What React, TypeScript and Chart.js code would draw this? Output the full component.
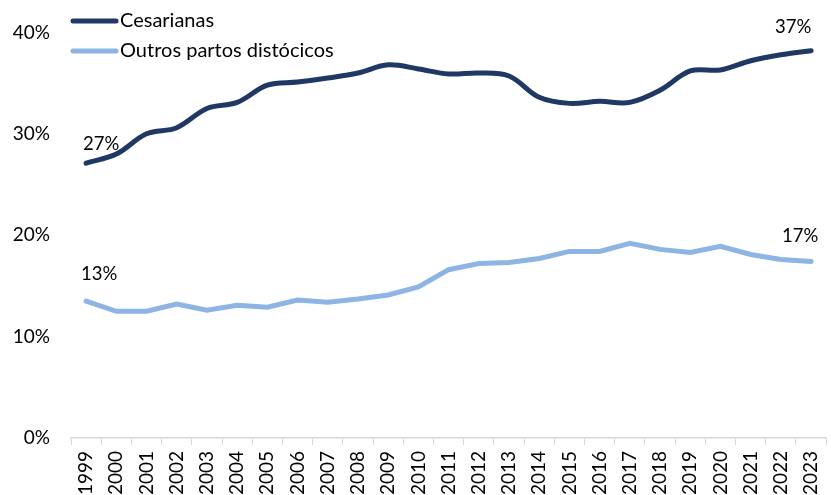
import React, { useEffect, useRef } from "react";
import { Chart, registerables } from "chart.js";

Chart.register(...registerables);

const years = ["1999","2000","2001","2002","2003","2004","2005","2006","2007","2008","2009","2010","2011","2012","2013","2014","2015","2016","2017","2018","2019","2020","2021","2022","2023"];
const cesarianas = [27.1, 28.0, 30.0, 30.6, 32.5, 33.1, 34.8, 35.1, 35.5, 36.0, 36.8, 36.4, 35.9, 36.0, 35.7, 33.6, 33.0, 33.2, 33.1, 34.3, 36.2, 36.3, 37.2, 37.8, 38.2];
const outros = [13.5, 12.5, 12.5, 13.2, 12.6, 13.1, 12.9, 13.6, 13.4, 13.7, 14.1, 14.9, 16.6, 17.2, 17.3, 17.7, 18.4, 18.4, 19.2, 18.6, 18.3, 18.9, 18.1, 17.6, 17.4];
const cesarianasEndLabels = ["27%", "37%"];
const outrosEndLabels = ["13%", "17%"];
const yTicks = [0, 10, 20, 30, 40];

const FONT = "Lato, 'Open Sans', sans-serif";

const legendPlugin = {
  id: "customLegend",
  afterDraw(chart: any) {
    const ctx = chart.ctx;
    ctx.save();
    chart.data.datasets.forEach((ds: any, i: number) => {
      const y = 21 + i * 30;
      ctx.strokeStyle = ds.borderColor;
      ctx.lineWidth = 5;
      ctx.lineCap = "round";
      ctx.beginPath();
      ctx.moveTo(73, y);
      ctx.lineTo(116, y);
      ctx.stroke();
      ctx.fillStyle = "#000";
      ctx.font = `20px ${FONT}`;
      ctx.textAlign = "left";
      ctx.textBaseline = "middle";
      ctx.fillText(ds.label, 120, y);
    });
    ctx.restore();
  },
};

const endLabelPlugin = {
  id: "endLabels",
  afterDatasetsDraw(chart: any) {
    const ctx = chart.ctx;
    const offsets = [
      [[15, -19], [-18, -24]],
      [[13, -27], [-11, -26]],
    ];
    const texts = [cesarianasEndLabels, outrosEndLabels];
    ctx.save();
    ctx.fillStyle = "#000";
    ctx.font = `18.5px ${FONT}`;
    ctx.textAlign = "center";
    ctx.textBaseline = "middle";
    chart.data.datasets.forEach((ds: any, di: number) => {
      const meta = chart.getDatasetMeta(di);
      const pts = [meta.data[0], meta.data[meta.data.length - 1]];
      pts.forEach((p: any, k: number) => {
        const [dx, dy] = offsets[di][k];
        ctx.fillText(texts[di][k], p.x + dx, p.y + dy);
      });
    });
    ctx.restore();
  },
};

export default function App() {
  const ref = useRef<HTMLCanvasElement>(null);
  useEffect(() => {
    if (!ref.current) return;
    const chart = new Chart(ref.current, {
      type: "line",
      data: {
        labels: years,
        datasets: [
          {
            label: "Cesarianas",
            data: cesarianas,
            borderColor: "#1F3864",
            borderWidth: 5,
            pointRadius: 0,
            tension: 0.35,
            borderCapStyle: "round",
            fill: false,
          },
          {
            label: "Outros partos distócicos",
            data: outros,
            borderColor: "#8DB4E2",
            borderWidth: 5,
            pointRadius: 0,
            tension: 0,
            borderCapStyle: "round",
            fill: false,
          },
        ],
      },
      options: {
        animation: false,
        responsive: false,
        maintainAspectRatio: false,
        layout: { padding: { top: 31, right: 5, left: 0, bottom: 0 } },
        plugins: { legend: { display: false }, tooltip: { enabled: false } },
        scales: {
          x: {
            type: "category",
            offset: true,
            grid: { display: true, drawOnChartArea: false, drawTicks: true, tickLength: 7, color: "#D9D9D9", offset: true },
            border: { display: true, color: "#D9D9D9", width: 1.5 },
            ticks: {
              color: "#000",
              font: { family: FONT, size: 19 },
              minRotation: 90,
              maxRotation: 90,
              padding: 6,
              autoSkip: false,
            },
            afterFit: (s: any) => { s.height = 495 - 438; },
          },
          y: {
            min: 0,
            max: 40,
            afterBuildTicks: (s: any) => { s.ticks = yTicks.map((v) => ({ value: v })); },
            grid: { display: false, drawTicks: false },
            border: { display: false },
            ticks: {
              color: "#000",
              font: { family: FONT, size: 19 },
              padding: 21,
              callback: (v: any) => `${v}%`,
            },
            afterFit: (s: any) => { s.width = 71; },
          },
        },
      },
      plugins: [legendPlugin, endLabelPlugin],
    } as any);
    return () => chart.destroy();
  }, []);
  return (
    <div style={{ position: "absolute", left: 0, top: 0, width: 831, height: 495, overflow: "hidden", background: "#fff" }}>
      <canvas ref={ref} width={840} height={495} style={{ width: 840, height: 495, display: "block" }} />
    </div>
  );
}
